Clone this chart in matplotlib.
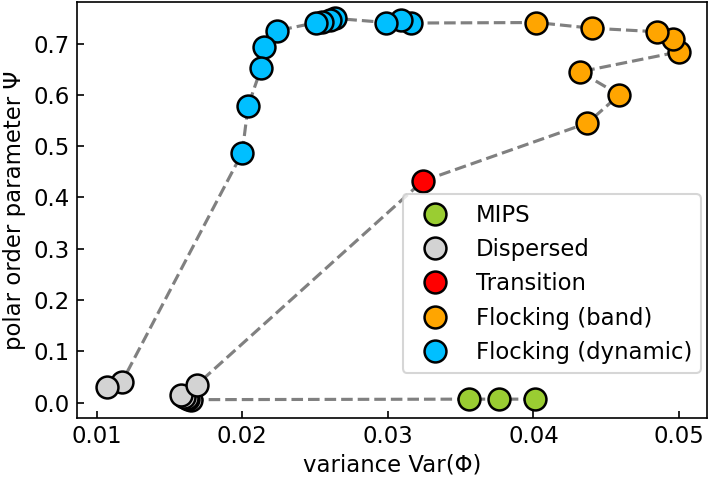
import numpy as np
import matplotlib
matplotlib.use("Agg")
import matplotlib.pyplot as plt

# trajectory through parameter space, in the order the dashed line connects it
var_phi = [0.0401, 0.0376, 0.0356,
           0.0165, 0.0163, 0.0162, 0.0160, 0.0158, 0.0169,
           0.0324,
           0.0437, 0.0459, 0.0432, 0.0500, 0.0496, 0.0485, 0.0440, 0.0402,
           0.0316, 0.0309, 0.0299, 0.0264, 0.0260, 0.0255, 0.0251,
           0.0224, 0.0215, 0.0213, 0.0204, 0.0200,
           0.01175, 0.0107]
psi = [0.007, 0.007, 0.007,
       0.006, 0.007, 0.009, 0.012, 0.015, 0.0355,
       0.432,
       0.545, 0.600, 0.645, 0.684, 0.709, 0.723, 0.730, 0.741,
       0.740, 0.745, 0.741, 0.749, 0.745, 0.742, 0.741,
       0.725, 0.694, 0.652, 0.578, 0.487,
       0.041, 0.031]
phase = (["MIPS"] * 3 + ["Dispersed"] * 6 + ["Transition"]
         + ["Flocking (band)"] * 8 + ["Flocking (dynamic)"] * 12
         + ["Dispersed"] * 2)

phase_names = ["MIPS", "Dispersed", "Transition", "Flocking (band)", "Flocking (dynamic)"]
phase_colors = ["yellowgreen", "lightgray", "red", "orange", "deepskyblue"]

var_phi = np.array(var_phi)
psi = np.array(psi)
phase = np.array(phase)

plt.rcParams['font.size'] = 10.9

fig = plt.figure(figsize=(710 / 150, 477 / 150), dpi=150)
ax = fig.add_axes([0.109, 0.1243, 0.8868, 0.8715])

ax.plot(var_phi, psi, '--', color='gray', lw=1.5, zorder=1)

for name, col in zip(phase_names, phase_colors):
    m = phase == name
    ax.plot(var_phi[m], psi[m], 'o', ls='none', ms=10.5, mfc=col, mec='black',
            mew=1.2, label=name, zorder=2)

ax.set_xlim(0.00868, 0.05192)
ax.set_ylim(-0.0292, 0.781)
ax.set_xticks([0.01, 0.02, 0.03, 0.04, 0.05])
ax.set_yticks([0.0, 0.1, 0.2, 0.3, 0.4, 0.5, 0.6, 0.7])
ax.tick_params(direction='in')
ax.set_xlabel('variance Var(Φ)', labelpad=2.5)
ax.set_ylabel('polar order parameter Ψ')
ax.legend(loc='lower right', bbox_to_anchor=(0.9905, 0.1075), borderaxespad=0)

fig.savefig('out.png', dpi=150)
